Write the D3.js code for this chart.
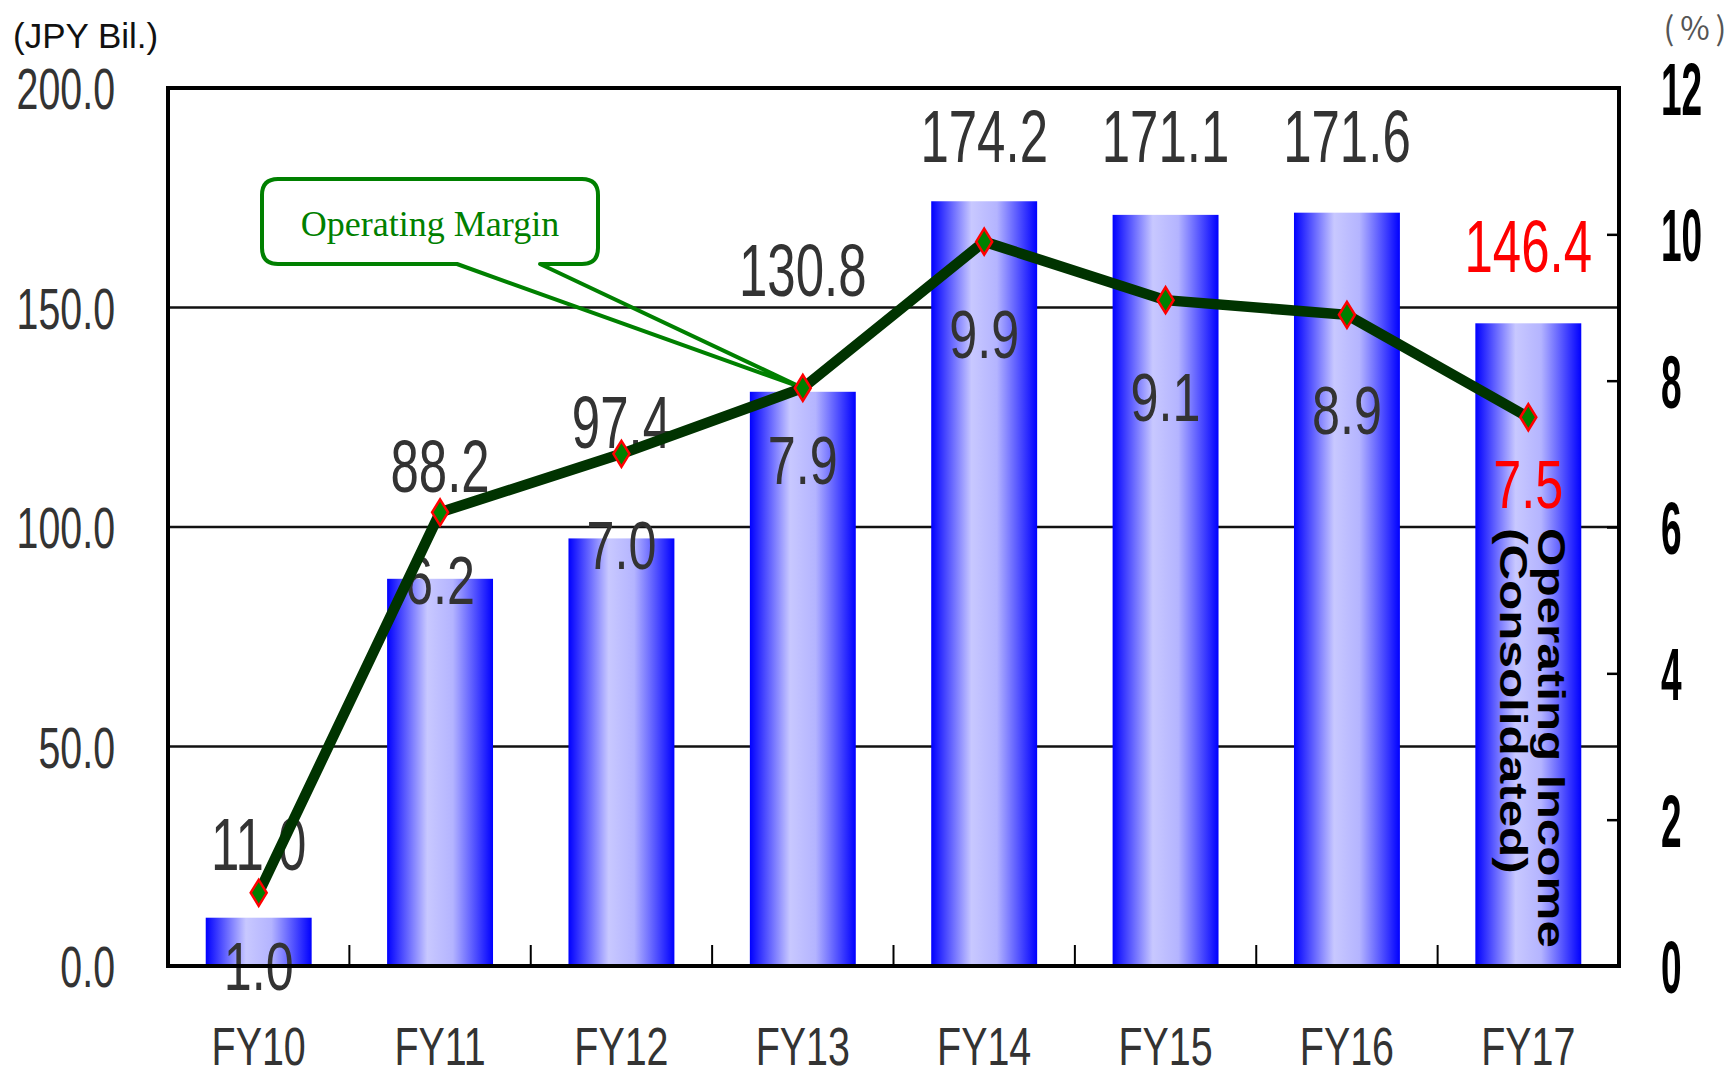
<!DOCTYPE html>
<html>
<head>
<meta charset="utf-8">
<script src="https://cdn.jsdelivr.net/npm/d3@7"></script>
<style>
  html, body { margin: 0; padding: 0; background: #fff; }
  svg { display: block; }
</style>
</head>
<body>
<svg id="chart" width="1733" height="1077"></svg>
<script>
// ---- data ----
const categories = ["FY10", "FY11", "FY12", "FY13", "FY14", "FY15", "FY16", "FY17"];
const operatingIncome = [11.0, 88.2, 97.4, 130.8, 174.2, 171.1, 171.6, 146.4];
const operatingMargin = [1.0, 6.2, 7.0, 7.9, 9.9, 9.1, 8.9, 7.5];
const leftTicks = [0, 50, 100, 150, 200];
const rightTicks = [0, 2, 4, 6, 8, 10, 12];
const highlightCategory = "FY17";
// label placement (in left-axis units, baseline of each label)
const incomeLabelAt = [21.8, 108.0, 118.0, 152.6, 183.1, 183.1, 183.1, 158.1];
const marginLabelAt = [-5.5, 82.5, 90.4, 109.8, 138.5, 124.1, 121.2, 104.3];

// ---- layout ----
const L = 168, R = 1619, T = 88, B = 966;
const svg = d3.select("#chart");

const x = d3.scaleBand().domain(categories).range([L, R]).paddingInner(0.416).paddingOuter(0.208);
const y = d3.scaleLinear().domain([0, 200]).range([B, T]);
const y2 = d3.scaleLinear().domain([0, 12]).range([B, T]);
const cx = c => x(c) + x.bandwidth() / 2;
const numFont = "'Liberation Sans', Arial, sans-serif";

// gradient
const defs = svg.append("defs");
const grad = defs.append("linearGradient").attr("id", "barGrad")
  .attr("x1", "0%").attr("x2", "100%").attr("y1", "0%").attr("y2", "0%");
grad.append("stop").attr("offset", "0%").attr("stop-color", "#0000ff");
grad.append("stop").attr("offset", "38%").attr("stop-color", "#c8c8ff");
grad.append("stop").attr("offset", "62%").attr("stop-color", "#b4b4ff");
grad.append("stop").attr("offset", "100%").attr("stop-color", "#0000ff");

// gridlines
svg.append("g").selectAll("line").data(leftTicks.filter(d => d > 0 && d < 200)).join("line")
  .attr("x1", L).attr("x2", R).attr("y1", d => y(d)).attr("y2", d => y(d))
  .attr("stroke", "#111").attr("stroke-width", 2.4);

// bars
svg.append("g").selectAll("rect").data(categories).join("rect")
  .attr("x", d => x(d)).attr("width", x.bandwidth())
  .attr("y", (d, i) => y(operatingIncome[i]))
  .attr("height", (d, i) => y(0) - y(operatingIncome[i]))
  .attr("fill", "url(#barGrad)");

// bottom category-boundary ticks
const step = x.step();
svg.append("g").selectAll("line").data(categories.slice(1)).join("line")
  .attr("x1", d => x(d) - (step - x.bandwidth()) / 2)
  .attr("x2", d => x(d) - (step - x.bandwidth()) / 2)
  .attr("y1", B - 21).attr("y2", B)
  .attr("stroke", "#000").attr("stroke-width", 2);

// vertical annotation inside last bar
const vt = svg.append("g").attr("font-family", "'Liberation Sans', Arial, sans-serif")
  .attr("font-weight", "bold").attr("font-size", 38).attr("fill", "#000");
vt.append("text").attr("transform", "translate(1538,528) rotate(90) scale(1.3,1)")
  .text("Operating Income");
vt.append("text").attr("transform", "translate(1500,528) rotate(90) scale(1.3,1)")
  .text("(Consolidated)");

// value labels
const incG = svg.append("g");
categories.forEach((c, i) => {
  incG.append("text")
    .attr("transform", `translate(${cx(c)},${y(incomeLabelAt[i])}) scale(0.68,1)`)
    .attr("text-anchor", "middle").attr("font-family", numFont).attr("font-size", 75)
    .attr("fill", c === highlightCategory ? "#ff0000" : "#333")
    .text(d3.format(".1f")(operatingIncome[i]));
  incG.append("text")
    .attr("transform", `translate(${cx(c)},${y(marginLabelAt[i])}) scale(0.74,1)`)
    .attr("text-anchor", "middle").attr("font-family", numFont).attr("font-size", 68)
    .attr("fill", c === highlightCategory ? "#ff0000" : "#333")
    .text(d3.format(".1f")(operatingMargin[i]));
});

// callout
const tipX = cx("FY13"), tipY = y2(operatingMargin[3]);
const bx0 = 262, bx1 = 598, by0 = 179, by1 = 264, r = 16;
const callout = d3.path();
callout.moveTo(bx0 + r, by0);
callout.lineTo(bx1 - r, by0);
callout.quadraticCurveTo(bx1, by0, bx1, by0 + r);
callout.lineTo(bx1, by1 - r);
callout.quadraticCurveTo(bx1, by1, bx1 - r, by1);
callout.lineTo(540, by1);
callout.lineTo(tipX, tipY);
callout.lineTo(457, by1);
callout.lineTo(bx0 + r, by1);
callout.quadraticCurveTo(bx0, by1, bx0, by1 - r);
callout.lineTo(bx0, by0 + r);
callout.quadraticCurveTo(bx0, by0, bx0 + r, by0);
callout.closePath();
svg.append("path").attr("d", callout.toString())
  .attr("fill", "none").attr("stroke", "#008000").attr("stroke-width", 4).attr("stroke-linejoin", "round");
svg.append("text").attr("x", 430).attr("y", 236).attr("text-anchor", "middle")
  .attr("font-family", "'Liberation Serif', 'Times New Roman', serif").attr("font-size", 36)
  .attr("fill", "#008000").text("Operating Margin");

// margin line
const line = d3.line().x((d, i) => cx(categories[i])).y(d => y2(d));
svg.append("path").datum(operatingMargin).attr("d", line)
  .attr("fill", "none").attr("stroke", "#003300").attr("stroke-width", 10.5).attr("stroke-linejoin", "miter");

// markers
svg.append("g").selectAll("path").data(operatingMargin).join("path")
  .attr("transform", (d, i) => `translate(${cx(categories[i])},${y2(d)})`)
  .attr("d", "M0,-13 L8,0 L0,13 L-8,0 Z")
  .attr("fill", "#008000").attr("stroke", "#ff0000").attr("stroke-width", 2.5);

// frame
svg.append("rect").attr("x", L).attr("y", T).attr("width", R - L).attr("height", B - T)
  .attr("fill", "none").attr("stroke", "#000").attr("stroke-width", 4);

// left axis
const la = svg.append("g").attr("transform", `translate(${L},0)`)
  .call(d3.axisLeft(y).tickValues(leftTicks).tickSize(0).tickFormat(d3.format(".1f")));
la.select(".domain").remove();
la.selectAll("text").attr("font-family", numFont).attr("font-size", 57).attr("fill", "#333")
  .attr("text-anchor", "end").attr("x", -53 / 0.69).attr("dy", "0.36em")
  .attr("transform", "scale(0.69,1)");

// right axis
const ra = svg.append("g").attr("transform", `translate(${R},0)`)
  .call(d3.axisRight(y2).tickValues(rightTicks).tickSize(-12).tickFormat(d3.format("d")));
ra.select(".domain").remove();
ra.selectAll("line").attr("stroke", "#000").attr("stroke-width", 2.5);
ra.selectAll("text").attr("font-family", numFont).attr("font-weight", "bold").attr("font-size", 74)
  .attr("fill", "#000").attr("text-anchor", "start").attr("x", 42 / 0.5).attr("dy", "0.36em")
  .attr("transform", "scale(0.5,1)");

// bottom axis labels
const ba = svg.append("g").attr("transform", `translate(0,${B})`)
  .call(d3.axisBottom(x).tickSize(0));
ba.select(".domain").remove();
ba.selectAll("text").attr("font-family", numFont).attr("font-size", 54).attr("fill", "#333")
  .attr("y", 99).attr("dy", 0).attr("transform", "scale(0.73,1)").attr("x", 0);

// unit labels
svg.append("text").attr("x", 13).attr("y", 48).attr("font-family", numFont)
  .attr("font-size", 35).attr("fill", "#111").text("(JPY Bil.)");
const pct = svg.append("g").attr("font-family", "'Noto Sans CJK JP', sans-serif")
  .attr("font-size", 32).attr("fill", "#555").attr("text-anchor", "middle");
pct.append("text").attr("x", 1669).attr("y", 40).text("(");
pct.append("text").attr("x", 1695).attr("y", 40).text("%");
pct.append("text").attr("x", 1721).attr("y", 40).text(")");
</script>
</body>
</html>
